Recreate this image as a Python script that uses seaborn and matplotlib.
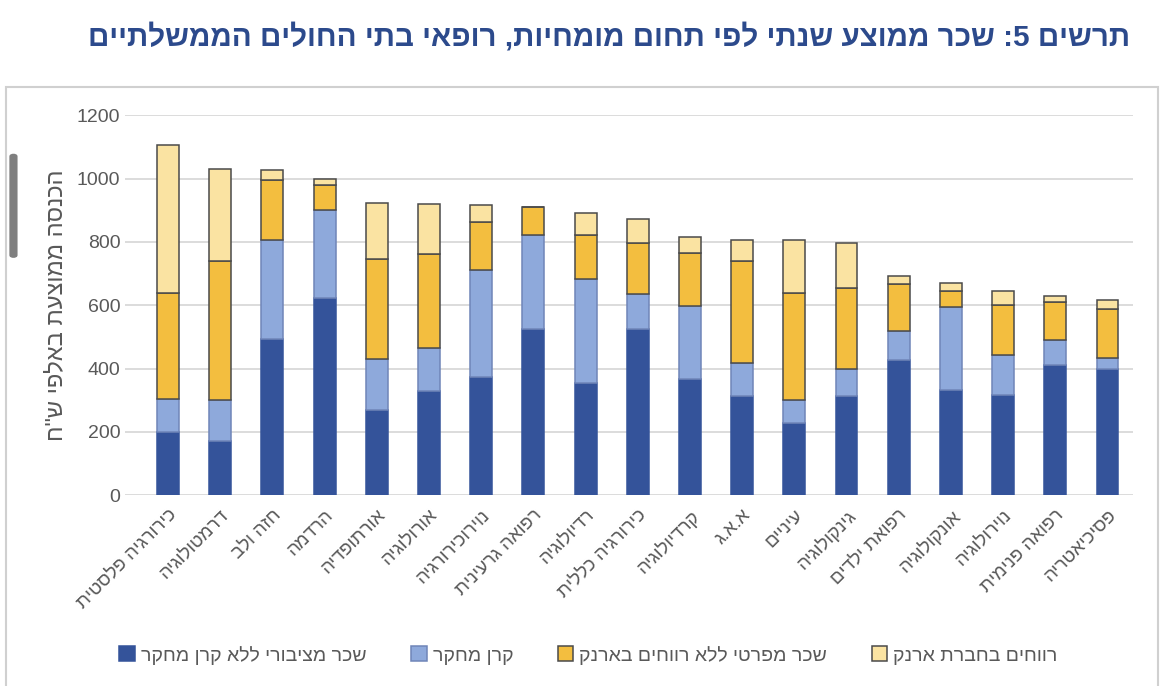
import numpy as np
import pandas as pd
import seaborn as sns
import matplotlib.pyplot as plt
from matplotlib.patches import Rectangle, FancyBboxPatch

# Hebrew is right-to-left; matplotlib has no bidi, so flip strings for display
def rtl(s):
    return s[::-1]

### Data (thousand NIS per year) ###
specialties = ["כירורגיה פלסטית", "דרמטולוגיה", "חזה ולב", "הרדמה", "אורתופדיה",
               "אורולוגיה", "נוירוכירורגיה", "רפואה גרעינית", "רדיולוגיה",
               "כירורגיה כללית", "קרדיולוגיה", "א.א.ג", "עיניים", "גינקולוגיה",
               "רפואת ילדים", "אונקולוגיה", "נוירולוגיה", "רפואה פנימית", "פסיכיאטריה"]
public_pay = [200, 170, 493, 622, 268, 328, 373, 524, 354, 526, 368, 313, 228, 313, 426, 334, 316, 410, 398]
research_fund = [103, 130, 312, 278, 162, 136, 337, 297, 328, 109, 229, 105, 72, 87, 92, 261, 126, 79, 36]
private_pay = [335, 439, 190, 79, 315, 297, 152, 88, 139, 162, 168, 321, 339, 253, 148, 49, 158, 121, 155]
wallet_profit = [467, 291, 31, 19, 177, 158, 54, 0, 69, 74, 51, 68, 168, 144, 26, 25, 46, 20, 29]

series_names = ["שכר מציבורי ללא קרן מחקר", "קרן מחקר", "שכר מפרטי ללא רווחים בארנק", "רווחים בחברת ארנק"]
series_vals = [public_pay, research_fund, private_pay, wallet_profit]
colors = ["#34539A", "#8EA9DB", "#F3BE3F", "#FAE3A2"]
edges = ["#34539A", "#6F85B8", "#4A4A4A", "#4A4A4A"]

title = "תרשים 5: שכר ממוצע שנתי לפי תחום מומחיות, רופאי בתי החולים הממשלתיים"
ylabel = "הכנסה ממוצעת באלפי ש\"ח"

### Plot ###
sns.set_style("white")
plt.rcParams['font.family'] = ['Liberation Sans', 'DejaVu Sans']

fig = plt.figure(figsize=(11.7, 6.86), dpi=100)
ax = fig.add_axes([0.107, 0.278, 0.861, 0.554])

labels = [rtl(s) for s in specialties]
bottom = np.zeros(len(specialties))
for name, vals, c, ec in zip(series_names, series_vals, colors, edges):
    df = pd.DataFrame({"spec": labels, "val": vals})
    sns.barplot(data=df, x="spec", y="val", bottom=bottom, color=c, width=0.42,
                edgecolor=ec, linewidth=1.1, saturation=1, label=rtl(name), ax=ax, zorder=3)
    bottom = bottom + np.array(vals)

ax.set_ylim(0, 1200)
ax.set_yticks(range(0, 1201, 200))
ax.set_xlim(-0.82, len(specialties) - 0.52)
ax.grid(axis="y", color="#D9D9D9", linewidth=1.3, zorder=0)
for sp in ax.spines.values():
    sp.set_visible(False)
ax.tick_params(axis="both", length=0, colors="#595959", labelsize=14)
ax.tick_params(axis="x", labelsize=13.5, pad=8)
plt.setp(ax.get_xticklabels(), rotation=45, ha="right", rotation_mode="anchor")
ax.set_xlabel("")
ax.set_ylabel(rtl(ylabel), fontsize=17, color="#595959", labelpad=7)

handles, leg_labels = ax.get_legend_handles_labels()
if ax.legend_:
    ax.legend_.remove()
fig.legend(handles, leg_labels, loc="center", bbox_to_anchor=(0.503, 0.045), ncol=4,
           frameon=False, fontsize=14, labelcolor="#595959", handlelength=0.8,
           handleheight=0.8, handletextpad=0.3, columnspacing=2.3)

fig.text(0.966, 0.946, rtl(title), ha="right", va="center", fontsize=21.3,
         fontweight="bold", color="#2C4A8C")

# chart frame and the grey scroll handle from the screenshot
fig.patches.append(Rectangle((0.005, -0.02), 0.985, 0.893, transform=fig.transFigure,
                             fill=False, edgecolor="#D0D0D0", linewidth=1.5))
fig.patches.append(FancyBboxPatch((0.008, 0.624), 0.007, 0.152, transform=fig.transFigure,
                                  boxstyle="round,pad=0,rounding_size=0.004",
                                  facecolor="#7F7F7F", edgecolor="none"))

fig.savefig("out.png", dpi=100)
